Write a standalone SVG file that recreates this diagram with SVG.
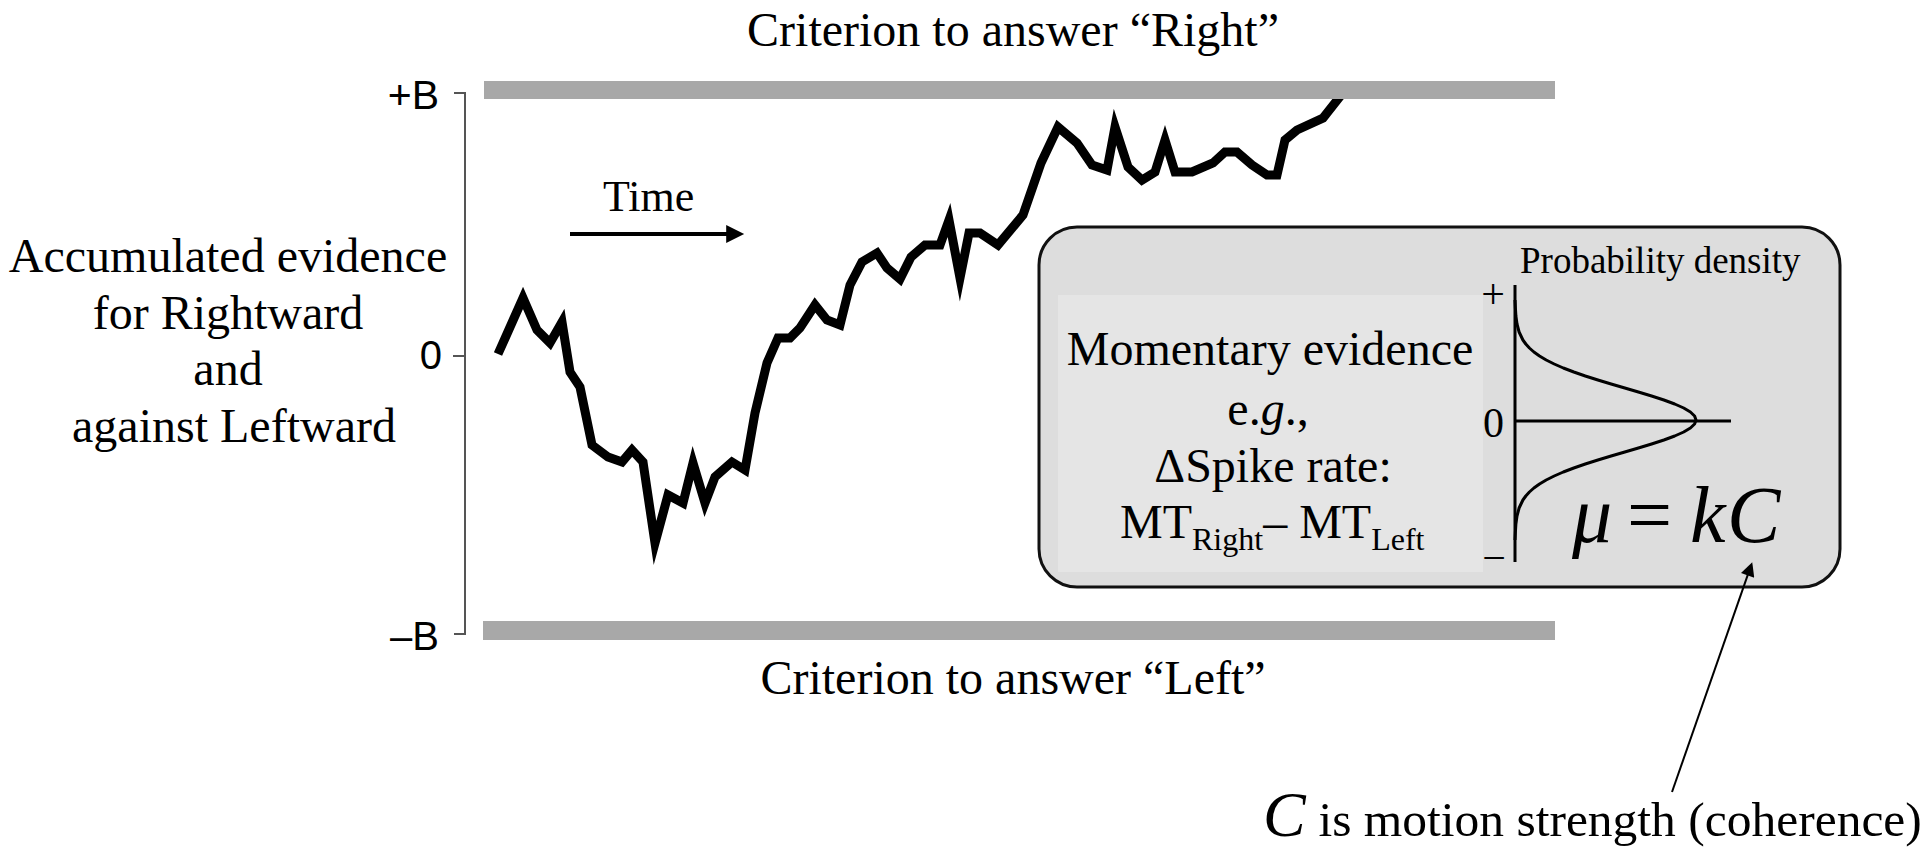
<svg xmlns="http://www.w3.org/2000/svg" width="1923" height="848" viewBox="0 0 1923 848">
<style>
.serif{font-family:"Liberation Serif","Times New Roman",serif;fill:#000}
.sans{font-family:"Liberation Sans",Arial,sans-serif;fill:#000}
.bound{fill:#a8a8a8}
.axis{stroke:#555;stroke-width:2;fill:none}
.ink{stroke:#000;fill:none}
</style>
<defs>
<marker id="headBig" viewBox="0 0 10 10" refX="6" refY="5" markerUnits="userSpaceOnUse" markerWidth="30" markerHeight="18" orient="auto">
<path d="M0,0 L10,5 L0,10 z" fill="#000"/>
</marker>
<marker id="headSmall" viewBox="0 0 10 10" refX="7.3" refY="5" markerUnits="userSpaceOnUse" markerWidth="22" markerHeight="14" orient="auto">
<path d="M0,0 L10,5 L0,10 z" fill="#000"/>
</marker>
</defs>
<rect width="1923" height="848" fill="#fff"/>

<g id="title-right"><text class="serif" x="1013" y="46" font-size="48" text-anchor="middle">Criterion to answer “Right”</text></g>

<g id="y-label">
<text class="serif" font-size="48" text-anchor="middle">
<tspan x="234" y="272">Accumulated evidence</tspan>
<tspan x="234" y="329">for Rightward</tspan>
<tspan x="234" y="385">and</tspan>
<tspan x="234" y="442">against Leftward</tspan>
</text>
</g>

<g id="y-axis">
<path class="axis" d="M454,93 H465 V634 H454 M453,356 H465"/>
<text class="sans" x="439" y="109" font-size="41" text-anchor="end">+B</text>
<text class="sans" x="442" y="369" font-size="40" text-anchor="end">0</text>
<text class="sans" x="439" y="650" font-size="40" text-anchor="end">–B</text>
</g>

<g id="trajectory">
<polyline class="ink" stroke-width="9" stroke-linejoin="miter" stroke-miterlimit="6" points="498,354 523,298 537,330 550,343 562,322 570,372 580,387 592,445 608,457 622,462 632,450 643,462 655,543 668,495 683,503 693,463 705,503 715,477 732,462 745,470 755,413 767,363 778,338 790,338 800,328 815,305 827,320 840,325 850,285 862,262 877,253 887,268 900,279 911,257 925,245 940,245 949,220 960,278 969,233 980,233 998,245 1023,215 1041,163 1058,127 1077,143 1092,165 1107,170 1115,127 1128,167 1142,180 1155,172 1165,140 1175,172 1192,172 1213,163 1225,152 1237,152 1252,165 1267,175 1277,175 1285,140 1297,130 1323,118 1342,94"/>
</g>

<g id="bound-top"><rect class="bound" x="484" y="81" width="1071" height="18"/></g>
<g id="bound-bottom"><rect class="bound" x="483" y="621" width="1072" height="19"/></g>

<g id="title-left"><text class="serif" x="1013" y="694" font-size="48" text-anchor="middle">Criterion to answer “Left”</text></g>

<g id="time-label"><text class="serif" x="603" y="211" font-size="44">Time</text></g>

<g id="inset">
<rect x="1039" y="227" width="801" height="360" rx="38" ry="38" fill="#dddddd" stroke="#111" stroke-width="3"/>
<rect x="1058" y="295" width="425" height="277" fill="#e5e5e5"/>
<text class="serif" font-size="48" text-anchor="middle">
<tspan x="1276" y="365">Momentary evidence</tspan>
<tspan x="1274" y="425">e.<tspan font-style="italic">g</tspan>.,</tspan>
<tspan x="1273" y="482">ΔSpike rate:</tspan>
</text>
<text class="serif" x="1120" y="538" font-size="48">MT<tspan font-size="32" dy="12">Right</tspan><tspan dy="-12">– MT</tspan><tspan font-size="32" dy="12">Left</tspan></text>
<text class="serif" x="1520" y="273" font-size="37">Probability density</text>
<path class="ink" stroke-width="3" d="M1515,285 V562 M1515,421 H1731"/>
<polyline class="ink" stroke-width="3" stroke-linejoin="round" points="1515,300 1515.4,308 1515.9,316 1517,324 1519.1,332 1522.9,340 1525.8,344 1529.4,348 1533.9,352 1539.5,356 1546.2,360 1554.2,364 1563.3,368 1573.8,372 1585.3,376 1597.9,380 1611.1,384 1624.8,388 1638.4,392 1651.6,396 1663.9,400 1674.7,404 1683.7,408 1690.4,412 1694.6,416 1696,420 1694.6,424 1690.4,428 1683.7,432 1674.7,436 1663.9,440 1651.6,444 1638.4,448 1624.8,452 1611.1,456 1597.9,460 1585.3,464 1573.8,468 1563.3,472 1554.2,476 1546.2,480 1539.5,484 1533.9,488 1529.4,492 1525.8,496 1522.9,500 1519.1,508 1517,516 1515.9,524 1515.4,532 1515,540"/>
<text class="serif" x="1493" y="308" font-size="42" text-anchor="middle">+</text>
<text class="serif" x="1504" y="437" font-size="42" text-anchor="end">0</text>
<text class="serif" x="1494" y="572" font-size="42" text-anchor="middle">−</text>
</g>

<g id="mu-eq">
<text class="serif" y="542" font-size="80"><tspan x="1572" font-style="italic">μ</tspan><tspan x="1627">=</tspan><tspan x="1690" font-style="italic">k</tspan><tspan x="1727" font-style="italic">C</tspan></text>
</g>

<g id="caption">
<text class="serif" y="836" font-size="49.5"><tspan x="1263" font-size="64" font-style="italic">C</tspan><tspan x="1306"> is motion strength (coherence)</tspan></text>
</g>

<g id="connectors">
<line class="ink" stroke-width="4" x1="570" y1="234" x2="737" y2="234" marker-end="url(#headBig)"/>
<line class="ink" stroke-width="2" x1="1672" y1="792" x2="1751" y2="565.7" marker-end="url(#headSmall)"/>
</g>
</svg>
